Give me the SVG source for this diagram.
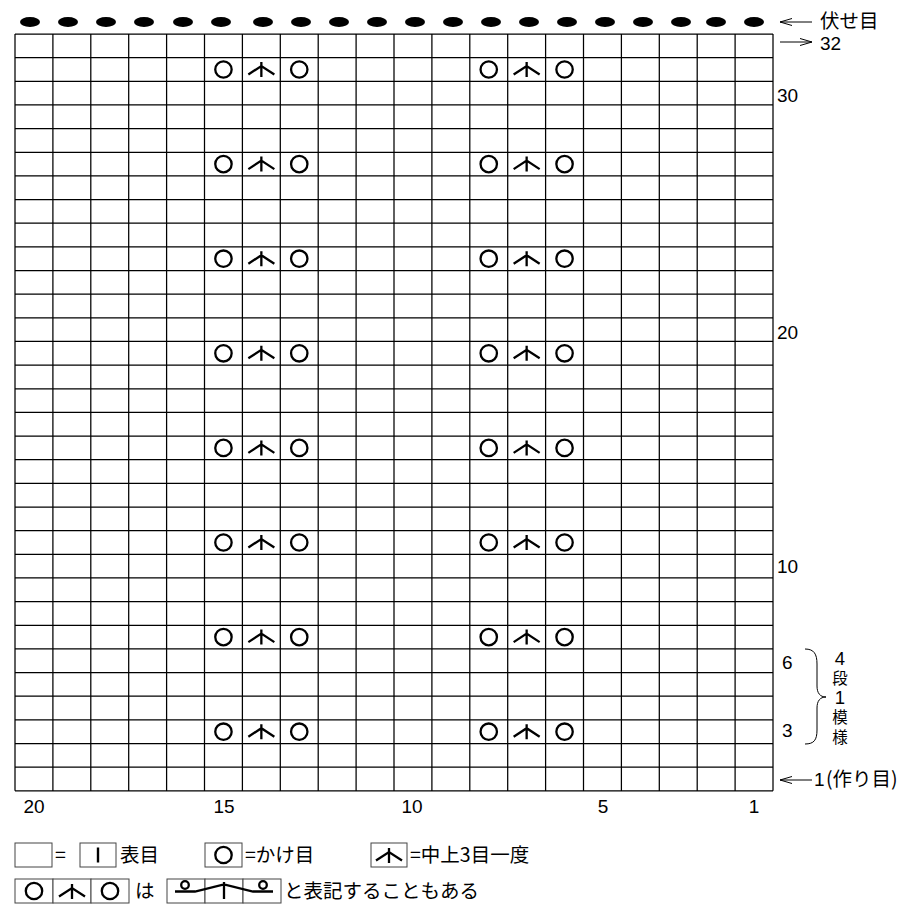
<svg xmlns="http://www.w3.org/2000/svg" xmlns:xlink="http://www.w3.org/1999/xlink" width="903" height="909" viewBox="0 0 903 909">
<style>
.grid{fill:none;stroke:#000;stroke-width:1.25}
.sym{fill:none;stroke:#000;stroke-width:2.3}
.num{font-family:"Liberation Sans",Arial,sans-serif;font-size:19px;fill:#000}
.jp{font-family:"Noto Sans CJK JP","Noto Sans",sans-serif;font-size:19.5px;fill:#000}
.vt{font-family:"Liberation Sans","Noto Sans CJK JP",sans-serif;font-size:15.5px;fill:#000}
.vd{font-family:"Liberation Sans",Arial,sans-serif;font-size:18.5px;fill:#000}
.thin{fill:none;stroke:#000;stroke-width:1}
.lbox{fill:#fff;stroke:#444;stroke-width:1}
</style>
<defs>
<g id="yo"><circle r="8.2" class="sym"/></g>
<g id="dec"><path class="sym" d="M0,-7.5V7.5M-13,5L0,-3.5L13,5"/></g>
<g id="motif"><use xlink:href="#yo" href="#yo" x="-37.9"/><use xlink:href="#dec" href="#dec"/><use xlink:href="#yo" href="#yo" x="37.9"/></g>
<ellipse id="bo" rx="10" ry="5" fill="#000"/>
</defs>
<rect width="903" height="909" fill="#fff"/>
<g id="bindoff">
<use href="#bo" x="30" y="22"/><use href="#bo" x="68" y="22"/><use href="#bo" x="106" y="22"/><use href="#bo" x="144" y="22"/><use href="#bo" x="183" y="22"/><use href="#bo" x="221" y="22"/><use href="#bo" x="263" y="22"/><use href="#bo" x="301" y="22"/><use href="#bo" x="339" y="22"/><use href="#bo" x="377" y="22"/><use href="#bo" x="415" y="22"/><use href="#bo" x="453" y="22"/><use href="#bo" x="491" y="22"/><use href="#bo" x="529" y="22"/><use href="#bo" x="567" y="22"/><use href="#bo" x="605" y="22"/><use href="#bo" x="643" y="22"/><use href="#bo" x="681" y="22"/><use href="#bo" x="716" y="22"/><use href="#bo" x="754" y="22"/>
</g>
<g id="grid">
<path class="grid" d="M15,34V790.8M52.9,34V790.8M90.8,34V790.8M128.7,34V790.8M166.6,34V790.8M204.5,34V790.8M242.4,34V790.8M280.3,34V790.8M318.2,34V790.8M356.1,34V790.8M394,34V790.8M431.9,34V790.8M469.8,34V790.8M507.7,34V790.8M545.6,34V790.8M583.5,34V790.8M621.4,34V790.8M659.3,34V790.8M697.2,34V790.8M735.1,34V790.8M773,34V790.8
M15,34H773M15,57.65H773M15,81.3H773M15,104.95H773M15,128.6H773M15,152.25H773M15,175.9H773M15,199.55H773M15,223.2H773M15,246.85H773M15,270.5H773M15,294.15H773M15,317.8H773M15,341.45H773M15,365.1H773M15,388.75H773M15,412.4H773M15,436.05H773M15,459.7H773M15,483.35H773M15,507H773M15,530.65H773M15,554.3H773M15,577.95H773M15,601.6H773M15,625.25H773M15,648.9H773M15,672.55H773M15,696.2H773M15,719.85H773M15,743.5H773M15,767.15H773M15,790.8H773"/>
</g>
<g id="motifs">
<use href="#motif" x="261.35" y="69.5"/><use href="#motif" x="526.65" y="69.5"/>
<use href="#motif" x="261.35" y="164.1"/><use href="#motif" x="526.65" y="164.1"/>
<use href="#motif" x="261.35" y="258.7"/><use href="#motif" x="526.65" y="258.7"/>
<use href="#motif" x="261.35" y="353.3"/><use href="#motif" x="526.65" y="353.3"/>
<use href="#motif" x="261.35" y="447.9"/><use href="#motif" x="526.65" y="447.9"/>
<use href="#motif" x="261.35" y="542.5"/><use href="#motif" x="526.65" y="542.5"/>
<use href="#motif" x="261.35" y="637.1"/><use href="#motif" x="526.65" y="637.1"/>
<use href="#motif" x="261.35" y="731.7"/><use href="#motif" x="526.65" y="731.7"/>
</g>
<g id="row-labels">
<path class="thin" d="M780,22H812M792,18.5L780,22L792,25.5"/>
<text class="jp" x="820" y="28" font-size="17">伏せ目</text>
<path class="thin" d="M780,42H812M800,38.5L812,42L800,45.5"/>
<text class="num" x="820" y="50">32</text>
<text class="num" x="777" y="102">30</text>
<text class="num" x="777" y="339">20</text>
<text class="num" x="777" y="573">10</text>
<text class="num" x="782" y="669">6</text>
<text class="num" x="782" y="737">3</text>
<path class="thin" d="M780,780H812M792,776.5L780,780L792,783.5"/>
<text class="num" x="814" y="786" font-size="17">1</text>
<text class="jp" x="826" y="786" font-size="17">(作り目)</text>
</g>
<g id="repeat-brace">
<path class="thin" d="M805,649C814,649 817,654 817,664L817,686C817,693 820,697 826,697C820,697 817,701 817,708L817,730C817,740 814,744 805,744"/>
<g text-anchor="middle">
<text class="vd" x="840" y="665">4</text>
<text class="vt" x="840" y="684">段</text>
<text class="vd" x="840" y="704">1</text>
<text class="vt" x="840" y="723">模</text>
<text class="vt" x="840" y="743">様</text>
</g>
</g>
<g id="col-labels">
<text class="num" x="34" y="813" text-anchor="middle">20</text>
<text class="num" x="224" y="813" text-anchor="middle">15</text>
<text class="num" x="412" y="813" text-anchor="middle">10</text>
<text class="num" x="603" y="813" text-anchor="middle">5</text>
<text class="num" x="754" y="813" text-anchor="middle">1</text>
</g>
<g id="legend-1">
<rect class="lbox" x="15" y="843" width="37" height="24"/>
<text class="jp" x="55" y="862">=</text>
<rect class="lbox" x="80" y="843" width="36" height="24"/>
<path d="M98,847.5V862.5" stroke="#000" stroke-width="2.4"/>
<text class="jp" x="120" y="862">表目</text>
</g>
<g id="legend-2">
<rect class="lbox" x="205" y="843" width="37" height="24"/>
<use href="#yo" x="223.5" y="855"/>
<text class="jp" x="245" y="862">=かけ目</text>
</g>
<g id="legend-3">
<rect class="lbox" x="371" y="843" width="36" height="24"/>
<use href="#dec" x="389" y="855.5"/>
<text class="jp" x="410" y="862">=中上3目一度</text>
</g>
<g id="legend-4">
<rect class="lbox" x="15" y="879" width="38" height="24"/>
<rect class="lbox" x="53" y="879" width="38" height="24"/>
<rect class="lbox" x="91" y="879" width="38" height="24"/>
<use href="#yo" x="34" y="891"/>
<use href="#dec" x="72" y="891.5"/>
<use href="#yo" x="110" y="891"/>
<text class="jp" x="135" y="898">は</text>
<rect class="lbox" x="167" y="879" width="38" height="24"/>
<rect class="lbox" x="205" y="879" width="38" height="24"/>
<rect class="lbox" x="243" y="879" width="38" height="24"/>
<circle cx="185" cy="885" r="3.8" class="sym" stroke-width="2"/>
<circle cx="263" cy="885" r="3.8" class="sym" stroke-width="2"/>
<path class="sym" stroke-width="2" d="M175,891.5H195L224,884.5L253,891.5H273M224,882V899"/>
<text class="jp" x="284" y="898">と表記することもある</text>
</g>
</svg>
